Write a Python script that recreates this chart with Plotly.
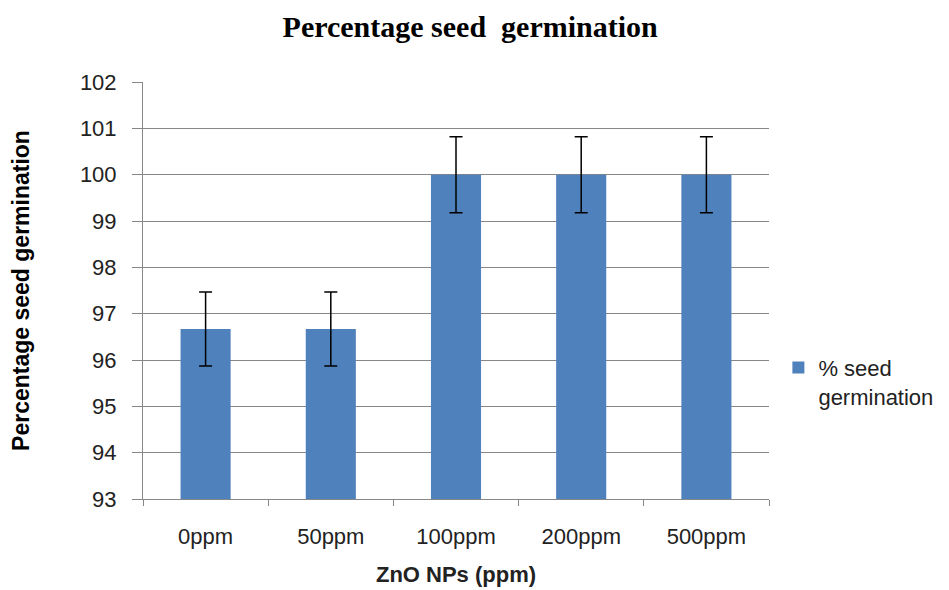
import plotly.graph_objects as go

categories = ["0ppm", "50ppm", "100ppm", "200ppm", "500ppm"]
germination = [96.67, 96.67, 100, 100, 100]
errors = [0.8, 0.8, 0.82, 0.82, 0.82]
y_ticks = list(range(93, 103))

fig = go.Figure()
fig.add_trace(go.Bar(
    x=categories, y=germination,
    name="% seed<br>germination",
    marker=dict(color="#4F81BD", line=dict(width=0)),
    width=0.4,
    error_y=dict(type="data", array=errors, visible=True, color="black", thickness=1.5, width=6.5),
))

sans = "Liberation Sans, Arial, sans-serif"
axis_font = dict(family=sans, size=22, color="#222")
fig.update_layout(
    width=949, height=590,
    paper_bgcolor="white", plot_bgcolor="white",
    margin=dict(l=135, r=188, t=74, b=99),
    title=dict(text="<b>Percentage seed  germination</b>", x=0.487, xanchor="center", y=0.968, yanchor="middle",
               font=dict(family="Liberation Serif, Times New Roman, serif", size=30, color="black")),
    showlegend=True,
    legend=dict(x=1.015, y=0.28, xanchor="left", yanchor="middle", valign="top",
                font=dict(family=sans, size=22, color="#222"),
                itemwidth=30, tracegroupgap=0),
    bargap=0.6,
)
fig.update_xaxes(
    type="category", showline=True, linecolor="#878787", linewidth=1,
    ticks="outside", ticklen=6, tickcolor="#878787", tickson="boundaries",
    tickfont=axis_font, ticklabelstandoff=18,
    title=dict(text="<b>ZnO NPs (ppm)</b>", font=dict(family=sans, size=22, color="#222"), standoff=18),
    showgrid=False, mirror=False,
)
fig.update_yaxes(
    range=[93, 102], tickvals=y_ticks, showline=True, linecolor="#878787", linewidth=1,
    ticks="outside", ticklen=10, tickcolor="#878787",
    showgrid=True, gridcolor="#878787", gridwidth=1,
    tickfont=axis_font, ticklabelstandoff=11,
    title=dict(text="<b>Percentage seed germination</b>", font=dict(family=sans, size=23, color="black"), standoff=43),
    zeroline=False,
)
fig.write_html("out.html")
